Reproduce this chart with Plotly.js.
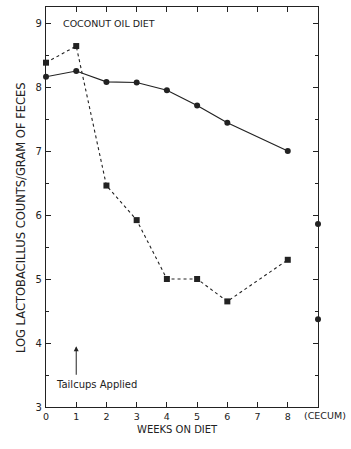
<!DOCTYPE html>
<html><head><meta charset="utf-8">
<script src="https://cdn.plot.ly/plotly-3.0.1.min.js"></script>
<style>html,body{margin:0;padding:0;background:#fff}</style>
</head><body>
<div id="chart" style="width:351px;height:449px"></div>
<script>
const weeksSolid = [0, 1, 2, 3, 4, 5, 6, 8];
const solidValues = [8.16, 8.25, 8.08, 8.07, 7.95, 7.71, 7.44, 7.0];
const weeksDashed = [0, 1, 2, 3, 4, 5, 6, 8];
const dashedValues = [8.38, 8.64, 6.46, 5.92, 5.0, 5.0, 4.65, 5.3];
const cecumX = [9, 9];
const cecumValues = [5.86, 4.37];
const xTickVals = [0, 1, 2, 3, 4, 5, 6, 7, 8];
const xTickText = ["0", "1", "2", "3", "4", "5", "6", "7", "8"];
const yTickVals = [3, 4, 5, 6, 7, 8, 9];

const ink = '#222';
const fam = 'DejaVu Sans, sans-serif';

const traces = [
  {x: weeksSolid, y: solidValues, mode: 'lines+markers', type: 'scatter',
   line: {color: ink, width: 1.2}, marker: {symbol: 'circle', size: 6, color: ink}, cliponaxis: false},
  {x: weeksDashed, y: dashedValues, mode: 'lines+markers', type: 'scatter',
   line: {color: ink, width: 1.1, dash: '3px,3px'}, marker: {symbol: 'square', size: 6, color: ink}, cliponaxis: false},
  {x: cecumX, y: cecumValues, mode: 'markers', type: 'scatter',
   marker: {symbol: 'circle', size: 6, color: ink}, cliponaxis: false}
];

const layout = {
  width: 351, height: 449,
  margin: {l: 46, r: 33, t: 7, b: 42},
  paper_bgcolor: '#fff', plot_bgcolor: '#fff',
  showlegend: false,
  font: {family: fam, size: 10, color: ink},
  xaxis: {
    range: [0, 9], tickvals: xTickVals, ticktext: xTickText,
    ticks: 'inside', ticklen: 5, tickcolor: ink, showline: true, linecolor: ink, linewidth: 1.2,
    mirror: 'ticks', showgrid: false, zeroline: false,
    tickfont: {family: fam, size: 9.5, color: ink}
  },
  yaxis: {
    range: [3, 9.25], tickvals: yTickVals,
    ticks: 'inside', ticklen: 5, tickcolor: ink, showline: true, linecolor: ink, linewidth: 1.2,
    mirror: 'ticks', showgrid: false, zeroline: false, ticklabelstandoff: 1,
    tickfont: {family: fam, size: 10, color: ink},
    minor: {dtick: 0.5, ticks: 'inside', ticklen: 3, tickcolor: ink, showgrid: false}
  },
  annotations: [
    {x: 0.485, y: -0.057, xref: 'paper', yref: 'paper', text: 'WEEKS ON DIET', showarrow: false,
     xanchor: 'center', yanchor: 'middle', font: {family: fam, size: 10, color: ink}},
    {x: 0, y: 0.4725, xref: 'paper', yref: 'paper', xshift: -25, text: 'LOG LACTOBACILLUS COUNTS/GRAM OF FECES',
     textangle: -90, showarrow: false, xanchor: 'center', yanchor: 'middle', font: {family: fam, size: 11.5, color: ink}},
    {x: 0.5, y: 9.0, xref: 'x', yref: 'y', text: 'COCONUT OIL DIET', showarrow: false,
     xanchor: 'left', yanchor: 'middle', font: {family: fam, size: 9.5, color: ink}},
    {x: 0.25, y: 3.35, xref: 'x', yref: 'y', text: 'Tailcups Applied', showarrow: false,
     xanchor: 'left', yanchor: 'middle', font: {family: fam, size: 10, color: ink}},
    {x: 1, y: 3.95, ax: 1, ay: 3.48, xref: 'x', yref: 'y', axref: 'x', ayref: 'y', text: '',
     showarrow: true, arrowhead: 2, arrowsize: 1, arrowwidth: 1, arrowcolor: ink},
    {x: 1, y: 0, xref: 'paper', yref: 'paper', yshift: -8, xshift: -16, text: '(CECUM)', showarrow: false,
     xanchor: 'left', yanchor: 'middle', font: {family: fam, size: 9.5, color: ink}}
  ]
};

Plotly.newPlot('chart', traces, layout, {displayModeBar: false, staticPlot: true});
</script>
</body></html>
